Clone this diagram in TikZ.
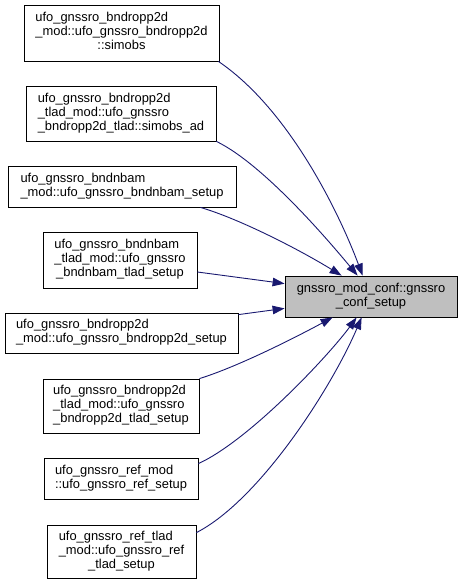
\documentclass[tikz,border=0pt]{standalone}
\usepackage{fontspec}
\setmainfont{Liberation Sans}
\usetikzlibrary{arrows.meta,calc}
\definecolor{edgeblue}{HTML}{191970}
\definecolor{hlgray}{HTML}{BFBFBF}
\newcommand\nlbl[2]{\begin{tabular}{@{}l@{}}#1\multicolumn{1}{@{}c@{}}{#2}\end{tabular}}
\begin{document}
\begin{tikzpicture}[x=1pt,y=-1pt,
  box/.style={draw=black,line width=0.8pt,inner sep=0pt,fill=white,
    font=\fontsize{12.9}{14}\selectfont},
  edge/.style={draw=edgeblue,line width=0.9pt,-{Triangle[length=12pt,width=8.5pt]}}]
\useasboundingbox (0,0) rectangle (463,587);

\node[box,minimum width=195pt,minimum height=56pt] (n1) at (121.5,33)
  {\nlbl{ufo\_gnssro\_bndropp2d\\ \_mod::ufo\_gnssro\_bndropp2d\\}{::simobs}};
\node[box,minimum width=190pt,minimum height=55pt] (n2) at (121,113.5)
  {\nlbl{ufo\_gnssro\_bndropp2d\\ \_tlad\_mod::ufo\_gnssro\\}{\_bndropp2d\_tlad::simobs\_ad}};
\node[box,minimum width=228pt,minimum height=41pt] (n3) at (122,186.5)
  {\nlbl{ufo\_gnssro\_bndnbam\\}{\_mod::ufo\_gnssro\_bndnbam\_setup}};
\node[box,minimum width=154pt,minimum height=56pt] (n4) at (120,260)
  {\nlbl{ufo\_gnssro\_bndnbam\\ \_tlad\_mod::ufo\_gnssro\\}{\_bndnbam\_tlad\_setup}};
\node[box,minimum width=233pt,minimum height=40pt] (n5) at (121.5,333)
  {\nlbl{ufo\_gnssro\_bndropp2d\\}{\_mod::ufo\_gnssro\_bndropp2d\_setup}};
\node[box,minimum width=156pt,minimum height=54pt] (n6) at (121,406)
  {\nlbl{ufo\_gnssro\_bndropp2d\\ \_tlad\_mod::ufo\_gnssro\\}{\_bndropp2d\_tlad\_setup}};
\node[box,minimum width=154pt,minimum height=41pt] (n7) at (121,478.5)
  {\nlbl{ufo\_gnssro\_ref\_mod\\}{::ufo\_gnssro\_ref\_setup}};
\node[box,minimum width=149pt,minimum height=53pt] (n8) at (121.5,551.5)
  {\nlbl{ufo\_gnssro\_ref\_tlad\\ \_mod::ufo\_gnssro\_ref\\}{\_tlad\_setup}};
\node[box,fill=hlgray,minimum width=172pt,minimum height=41pt] (c) at (371,296.5)
  {\nlbl{gnssro\_mod\_conf::gnssro\\}{\_conf\_setup}};

\draw[edge] ($(n1.south east)+(-1,0)$) .. controls (290,110) and (340,215) .. ($(c.north west)+(78,0)$);
\draw[edge] (n2.south east) .. controls (265,165) and (333,246) .. ($(c.north west)+(73,0)$);
\draw[edge] ($(n3.south east)+(-36,0)$) .. controls (240,219) and (300,250) .. ($(c.north west)+(57,0)$);
\draw[edge] ($(n4.east)+(0,12)$) -- ($(c.north west)+(0,8)$);
\draw[edge] ($(n5.north east)+(0,2)$) -- ($(c.south west)+(0,-9)$);
\draw[edge] (n6.north east) .. controls (240,366) and (300,335) .. ($(c.south west)+(48,0)$);
\draw[edge] ($(n7.north east)+(0,6)$) .. controls (250,440) and (330,354) .. ($(c.south west)+(72,0)$);
\draw[edge] ($(n8.north east)+(0,8)$) .. controls (260,500) and (332,387) .. ($(c.south west)+(77,0)$);
\end{tikzpicture}
\end{document}
